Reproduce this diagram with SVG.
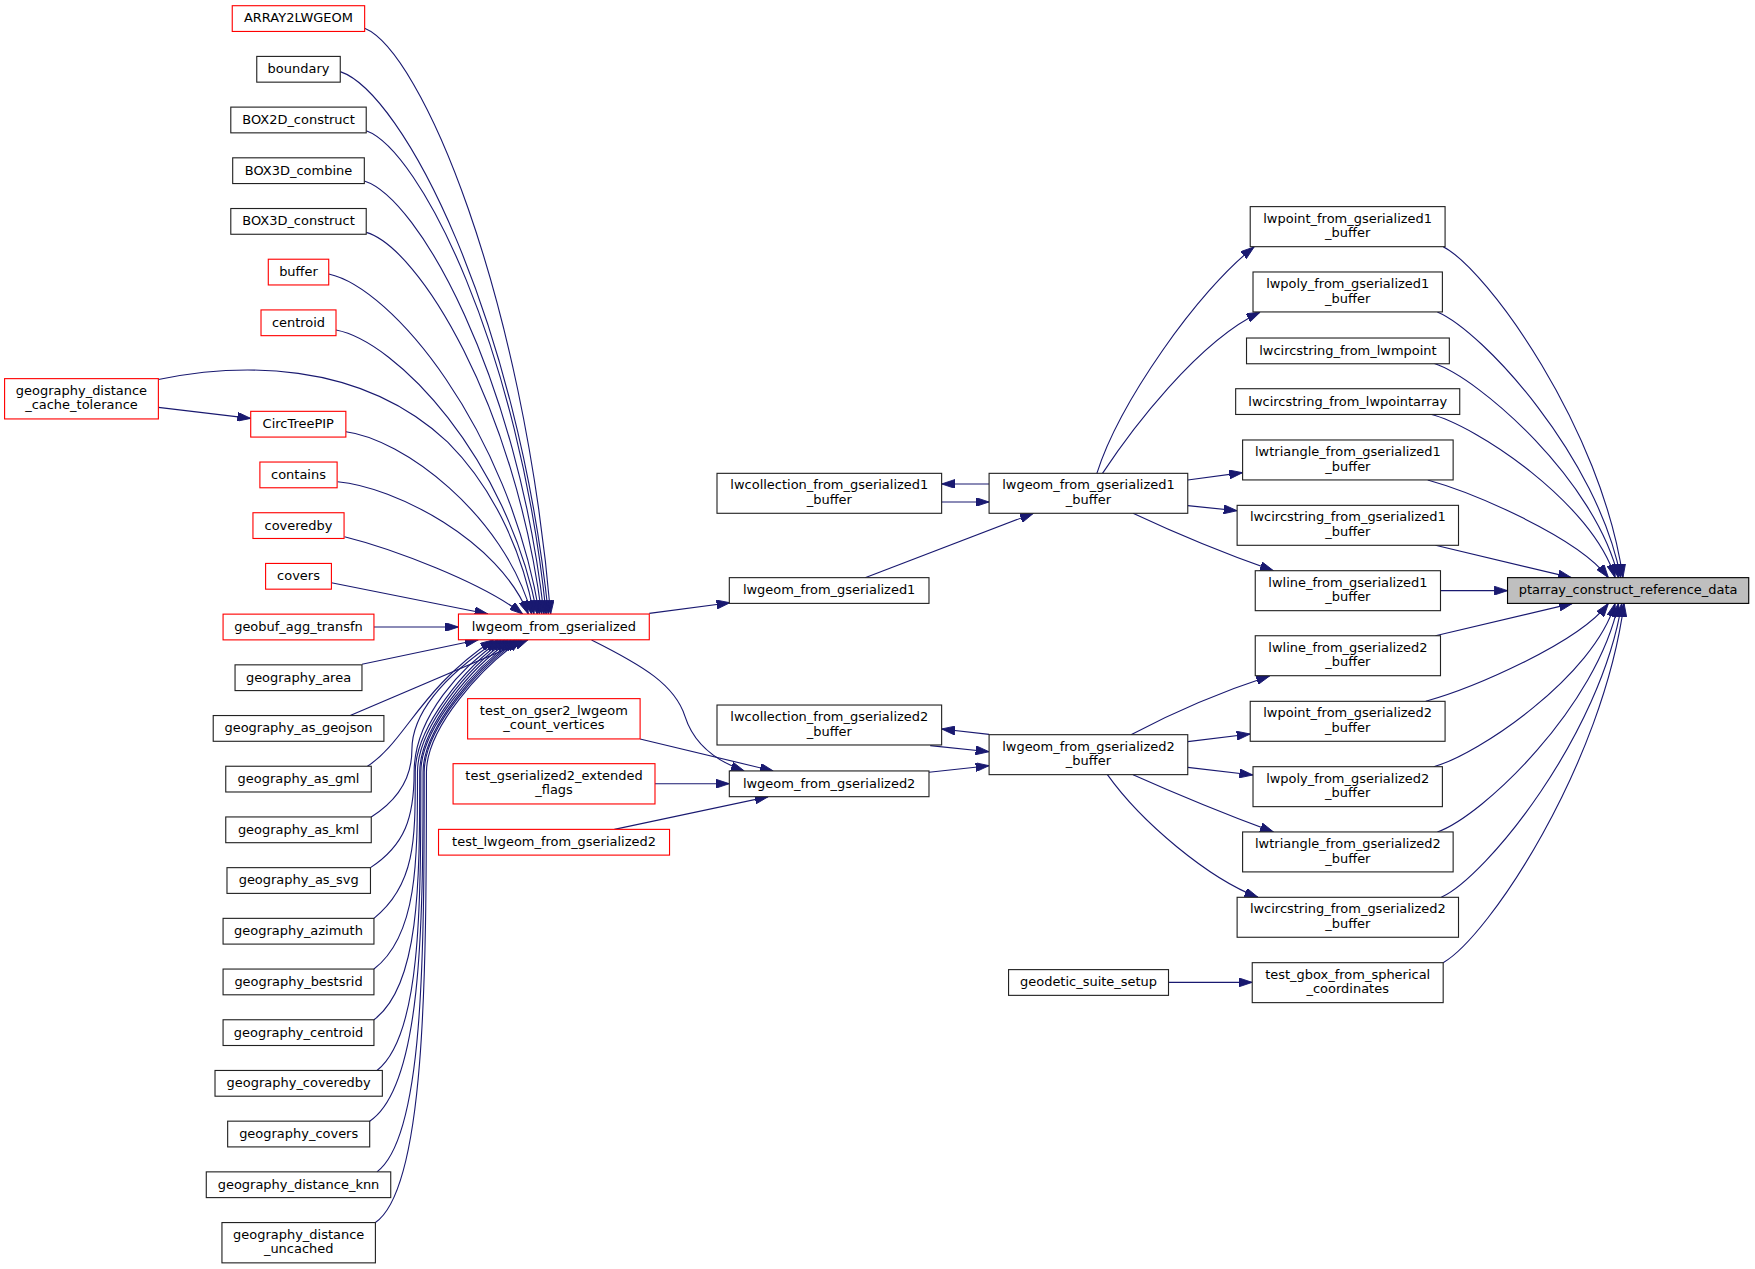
<svg xmlns="http://www.w3.org/2000/svg" width="1755" height="1269" viewBox="0 0 1755 1269">
<style>
.node rect{fill:#ffffff;stroke:#222222;stroke-width:1}
.node.red rect{stroke:#ff0000}
.node.main rect{fill:#bfbfbf;stroke:#000000}
.node text{font-family:"DejaVu Sans","Liberation Sans",sans-serif;font-size:11.6px;fill:#000000;text-anchor:middle}
#edges path{fill:none;stroke:#191970;stroke-width:1;marker-end:url(#arr)}
</style>
<defs>
<marker id="arr" viewBox="0 0 12 8" refX="12" refY="4" markerWidth="12" markerHeight="8" orient="auto" markerUnits="userSpaceOnUse">
<path d="M0,0 L12,4 L0,8 z" fill="#191970" stroke="#191970" stroke-width="0.8"/>
</marker>
</defs>
<rect x="0" y="0" width="1755" height="1269" fill="#ffffff"/>
<g transform="scale(1.11926)">
<g id="edges">
<path d="M325.8,25.3 C376,46 467,260 492,548.6"/>
<path d="M304,64 C360,83 462,282 490,548.6"/>
<path d="M327.2,116.8 C375,134 464,311 488,548.6"/>
<path d="M325.5,161.7 C374,177 462,336 486,548.6"/>
<path d="M327.2,207.6 C374,221 460,361 484,548.6"/>
<path d="M293.7,244.8 C350,257 454,382 482,548.6"/>
<path d="M300.2,294.9 C354,305 453,409 480,548.6"/>
<path d="M141.5,339 C210,325 320,320 400,395 C445,440 468,500 477,548.6"/>
<path d="M141.5,364 L224,373.8"/>
<path d="M309.1,385.7 C359,392 450,459 475,548.6"/>
<path d="M301.6,430.4 C353,435 446,483 472,548.6"/>
<path d="M307.8,479.5 C350,490 430,520 467,548.6"/>
<path d="M296.1,520.6 L436,548.6"/>
<path d="M334.1,560.2 L409.6,560.2"/>
<path d="M323.4,593.5 L427.4,571.6"/>
<path d="M312.9,639.3 L471.8,571.6"/>
<path d="M328.3,684.6 C362,663 375,615 441,571.6"/>
<path d="M331.7,729.9 C360,712 368,690 368,670 C368,630 410,595 445,571.6"/>
<path d="M331,775.2 C362,755 370,730 370,690 C370,640 413,595 448,571.6"/>
<path d="M334.1,820.5 C371.6,790.5 371,748.7 371,690 C371,650 416,595 451,571.6"/>
<path d="M334.1,865.8 C373.2,835.8 373,769 373,690 C373,650 419,595 454,571.6"/>
<path d="M334.1,911.1 C374.8,881 375,789.5 375,690 C375,650 422,595 457,571.6"/>
<path d="M336.8,956.4 C376.2,926 376,810 376,690 C376,650 425,595 460,571.6"/>
<path d="M330.3,1001.7 C376.5,971 378,830 378,690 C378,650 427,595 462,571.6"/>
<path d="M336.8,1047 C378.6,1016 379,855 379,690 C379,650 429,595 464,571.6"/>
<path d="M335.4,1092.3 C379.9,1062 381,875.5 381,690 C381,650 431,595 466,571.6"/>
<path d="M580.1,548 L652.2,538.5"/>
<path d="M528.5,571.8 C575,595 603,612 612,640 C620,665 640,680 665,688.8"/>
<path d="M571.9,660.3 L690.9,688.8"/>
<path d="M585.2,700.2 L651.6,700.2"/>
<path d="M548.9,741 L686.4,711.8"/>
<path d="M772.9,516.1 L923.4,458.6"/>
<path d="M883.7,432.4 L841.3,432.4"/>
<path d="M841.3,448.5 L883.7,448.5"/>
<path d="M883.7,656.1 L841.3,651.3"/>
<path d="M831.1,666.2 L883.7,671.6"/>
<path d="M830,690 L883.7,684.1"/>
<path d="M980,422.9 C1000,360 1070,260 1120.5,220.6"/>
<path d="M985,422.9 C1010,385 1070,305 1125.8,278.9"/>
<path d="M1061.2,428.9 L1110.2,422.3"/>
<path d="M1061.2,451.8 L1105.3,456.3"/>
<path d="M1012.3,458.6 Q1075,488 1137.8,509.9"/>
<path d="M1010.5,656.4 Q1070,625 1134.3,604"/>
<path d="M1061.2,662.6 L1117,655.8"/>
<path d="M1061.2,685.6 L1119.4,692.4"/>
<path d="M1012.3,692.1 Q1075,720 1137.8,743.3"/>
<path d="M989.4,692.1 C1020,735 1080,785 1124,801.7"/>
<path d="M1044,877.7 L1118.8,877.7"/>
<path d="M1289.4,220.4 C1329,241 1431,383 1450,516.1"/>
<path d="M1284.2,278.7 C1325,296 1428,409 1448,516.1"/>
<path d="M1281,324.6 C1322,338 1426,430 1446,516.1"/>
<path d="M1277.4,369.9 C1319,380 1423,450 1443,516.1"/>
<path d="M1275.6,428.8 C1316,440 1410,480 1437,516.1"/>
<path d="M1282.5,487.2 L1404,516.1"/>
<path d="M1287,527.7 L1346.9,527.7"/>
<path d="M1282.5,568 L1405,539.1"/>
<path d="M1273.9,626.6 C1315,615 1410,575 1437,539.1"/>
<path d="M1280.9,685 C1321,674 1424,604 1443,539.1"/>
<path d="M1284.2,743.3 C1325,729 1427,631 1446,539.1"/>
<path d="M1287.7,801.7 C1328,783 1430,657 1449,539.1"/>
<path d="M1289.4,860.1 C1330,837 1432,683 1451,539.1"/>
</g>
<g id="n_array" class="node red"><rect x="207.5" y="5.1" width="118.3" height="23"/><text x="266.65" y="20.1">ARRAY2LWGEOM</text></g>
<g id="n_boundary" class="node"><rect x="229.4" y="50.4" width="74.6" height="23"/><text x="266.7" y="65.4">boundary</text></g>
<g id="n_box2d" class="node"><rect x="206.2" y="95.7" width="121" height="23"/><text x="266.7" y="110.7">BOX2D_construct</text></g>
<g id="n_box3dcomb" class="node"><rect x="207.9" y="141" width="117.6" height="23"/><text x="266.7" y="156">BOX3D_combine</text></g>
<g id="n_box3dcons" class="node"><rect x="206.2" y="186.3" width="121" height="23"/><text x="266.7" y="201.3">BOX3D_construct</text></g>
<g id="n_buffer" class="node red"><rect x="239.7" y="231.6" width="54" height="23"/><text x="266.7" y="246.6">buffer</text></g>
<g id="n_centroid" class="node red"><rect x="233.2" y="276.9" width="67" height="23"/><text x="266.7" y="291.9">centroid</text></g>
<g id="n_gdct" class="node red"><rect x="4.1" y="338.3" width="137.4" height="36"/><text x="72.8" y="352.6">geography_distance</text><text x="72.8" y="365.7">_cache_tolerance</text></g>
<g id="n_circ" class="node red"><rect x="224" y="367.5" width="85" height="23"/><text x="266.5" y="382.5">CircTreePIP</text></g>
<g id="n_contains" class="node red"><rect x="232.2" y="412.8" width="69" height="23"/><text x="266.7" y="427.8">contains</text></g>
<g id="n_coveredby" class="node red"><rect x="226" y="458.1" width="81.4" height="23"/><text x="266.7" y="473.1">coveredby</text></g>
<g id="n_covers" class="node red"><rect x="237.3" y="503.4" width="58.8" height="23"/><text x="266.7" y="518.4">covers</text></g>
<g id="n_geobuf" class="node red"><rect x="199.3" y="548.7" width="134.8" height="23"/><text x="266.7" y="563.7">geobuf_agg_transfn</text></g>
<g id="n_garea" class="node"><rect x="210" y="594" width="113.4" height="23"/><text x="266.7" y="609">geography_area</text></g>
<g id="n_geojson" class="node"><rect x="190.5" y="639.3" width="152.5" height="23"/><text x="266.7" y="654.3">geography_as_geojson</text></g>
<g id="n_gml" class="node"><rect x="201.7" y="684.6" width="130" height="23"/><text x="266.7" y="699.6">geography_as_gml</text></g>
<g id="n_kml" class="node"><rect x="201.7" y="729.9" width="130" height="23"/><text x="266.7" y="744.9">geography_as_kml</text></g>
<g id="n_svg" class="node"><rect x="202.8" y="775.2" width="128.2" height="23"/><text x="266.9" y="790.2">geography_as_svg</text></g>
<g id="n_azimuth" class="node"><rect x="199.3" y="820.5" width="134.8" height="23"/><text x="266.7" y="835.5">geography_azimuth</text></g>
<g id="n_bestsrid" class="node"><rect x="199.3" y="865.8" width="134.8" height="23"/><text x="266.7" y="880.8">geography_bestsrid</text></g>
<g id="n_gcentroid" class="node"><rect x="199.3" y="911.1" width="134.8" height="23"/><text x="266.7" y="926.1">geography_centroid</text></g>
<g id="n_gcoveredby" class="node"><rect x="192.1" y="956.4" width="149.5" height="23"/><text x="266.85" y="971.4">geography_coveredby</text></g>
<g id="n_gcovers" class="node"><rect x="203.4" y="1001.7" width="126.9" height="23"/><text x="266.85" y="1016.7">geography_covers</text></g>
<g id="n_knn" class="node"><rect x="184.3" y="1047" width="164.8" height="23"/><text x="266.7" y="1062">geography_distance_knn</text></g>
<g id="n_uncached" class="node"><rect x="198.3" y="1092.3" width="137.1" height="36"/><text x="266.85" y="1106.6">geography_distance</text><text x="266.85" y="1119.7">_uncached</text></g>
<g id="n_lwgeom" class="node red"><rect x="409.6" y="548.6" width="170.5" height="23"/><text x="494.85" y="563.6">lwgeom_from_gserialized</text></g>
<g id="n_tog" class="node red"><rect x="417.8" y="624.2" width="154.1" height="36"/><text x="494.85" y="638.5">test_on_gser2_lwgeom</text><text x="494.85" y="651.6">_count_vertices</text></g>
<g id="n_tge" class="node red"><rect x="404.8" y="682.3" width="180.4" height="36"/><text x="495" y="696.6">test_gserialized2_extended</text><text x="495" y="709.7">_flags</text></g>
<g id="n_tlg" class="node red"><rect x="391.8" y="741" width="206.4" height="23"/><text x="495" y="756">test_lwgeom_from_gserialized2</text></g>
<g id="n_lc1" class="node"><rect x="640.6" y="422.9" width="200.7" height="35.7"/><text x="740.95" y="437.2">lwcollection_from_gserialized1</text><text x="740.95" y="450.3">_buffer</text></g>
<g id="n_lg1" class="node"><rect x="651.6" y="516.1" width="178.4" height="23"/><text x="740.8" y="531.1">lwgeom_from_gserialized1</text></g>
<g id="n_lc2" class="node"><rect x="640.6" y="629.9" width="200.7" height="35.7"/><text x="740.95" y="644.2">lwcollection_from_gserialized2</text><text x="740.95" y="657.3">_buffer</text></g>
<g id="n_lg2" class="node"><rect x="651.6" y="688.8" width="178.4" height="23"/><text x="740.8" y="703.8">lwgeom_from_gserialized2</text></g>
<g id="n_lg1b" class="node"><rect x="883.7" y="422.9" width="177.5" height="35.7"/><text x="972.45" y="437.2">lwgeom_from_gserialized1</text><text x="972.45" y="450.3">_buffer</text></g>
<g id="n_lg2b" class="node"><rect x="883.7" y="656.4" width="177.5" height="35.7"/><text x="972.45" y="670.7">lwgeom_from_gserialized2</text><text x="972.45" y="683.8">_buffer</text></g>
<g id="n_geodetic" class="node"><rect x="901.1" y="866.3" width="142.9" height="23"/><text x="972.55" y="881.3">geodetic_suite_setup</text></g>
<g id="n_lwpoint1" class="node"><rect x="1117" y="184.6" width="174.1" height="35.8"/><text x="1204.05" y="198.9">lwpoint_from_gserialized1</text><text x="1204.05" y="212">_buffer</text></g>
<g id="n_lwpoly1" class="node"><rect x="1119.5" y="243" width="169.2" height="35.7"/><text x="1204.1" y="257.3">lwpoly_from_gserialized1</text><text x="1204.1" y="270.4">_buffer</text></g>
<g id="n_lwcirc_mp" class="node"><rect x="1113.7" y="302" width="181.2" height="23"/><text x="1204.3" y="317">lwcircstring_from_lwmpoint</text></g>
<g id="n_lwcirc_pa" class="node"><rect x="1104" y="347.3" width="200.2" height="23"/><text x="1204.1" y="362.3">lwcircstring_from_lwpointarray</text></g>
<g id="n_lwtri1" class="node"><rect x="1110.2" y="393.1" width="188.1" height="35.7"/><text x="1204.25" y="407.4">lwtriangle_from_gserialized1</text><text x="1204.25" y="420.5">_buffer</text></g>
<g id="n_lwcirc1" class="node"><rect x="1105.3" y="451.5" width="197.8" height="35.7"/><text x="1204.2" y="465.8">lwcircstring_from_gserialized1</text><text x="1204.2" y="478.9">_buffer</text></g>
<g id="n_lwline1" class="node"><rect x="1121.5" y="509.9" width="165.5" height="35.7"/><text x="1204.25" y="524.2">lwline_from_gserialized1</text><text x="1204.25" y="537.3">_buffer</text></g>
<g id="n_lwline2" class="node"><rect x="1121.5" y="568" width="165.5" height="35.7"/><text x="1204.25" y="582.3">lwline_from_gserialized2</text><text x="1204.25" y="595.4">_buffer</text></g>
<g id="n_lwpoint2" class="node"><rect x="1117" y="626.6" width="174.1" height="35.7"/><text x="1204.05" y="640.9">lwpoint_from_gserialized2</text><text x="1204.05" y="654">_buffer</text></g>
<g id="n_lwpoly2" class="node"><rect x="1119.5" y="685" width="169.2" height="35.7"/><text x="1204.1" y="699.3">lwpoly_from_gserialized2</text><text x="1204.1" y="712.4">_buffer</text></g>
<g id="n_lwtri2" class="node"><rect x="1110.2" y="743.3" width="188.1" height="35.7"/><text x="1204.25" y="757.6">lwtriangle_from_gserialized2</text><text x="1204.25" y="770.7">_buffer</text></g>
<g id="n_lwcirc2" class="node"><rect x="1105.3" y="801.7" width="197.8" height="35.7"/><text x="1204.2" y="816">lwcircstring_from_gserialized2</text><text x="1204.2" y="829.1">_buffer</text></g>
<g id="n_tgbox" class="node"><rect x="1118.8" y="860.1" width="170.6" height="35.7"/><text x="1204.1" y="874.4">test_gbox_from_spherical</text><text x="1204.1" y="887.5">_coordinates</text></g>
<g id="n_ptarray" class="node main"><rect x="1346.9" y="516.1" width="215.5" height="23"/><text x="1454.65" y="531.1">ptarray_construct_reference_data</text></g>
</g>
</svg>
